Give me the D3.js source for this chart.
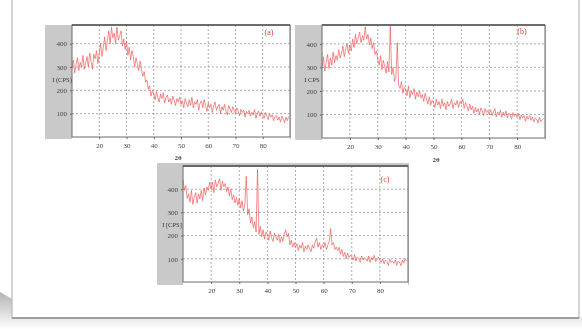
<!DOCTYPE html>
<html>
<head>
<meta charset="utf-8">
<script src="https://cdn.jsdelivr.net/npm/d3@7"></script>
<style>
  html, body { margin: 0; padding: 0; background: #ffffff; }
  svg { display: block; }
</style>
</head>
<body>
<svg id="chart" width="582" height="329"></svg>
<script>
// Diffraction scans, 2θ from 10° to 89.5° in 0.5° steps
const twoThetaStart = 10;
const twoThetaStep = 0.5;
const xTicks = [20, 30, 40, 50, 60, 70, 80];
const yTicks = [100, 200, 300, 400];

const sampleA = [
  295, 330, 275, 310, 340, 285, 320, 300, 350, 290,
  315, 345, 300, 360, 325, 290, 355, 335, 370, 315,
  360, 400, 345, 385, 430, 370, 415, 455, 400, 470,
  425, 445, 400, 470, 415, 435, 455, 390, 420, 375,
  410, 350, 385, 330, 370, 345, 300, 340, 315, 285,
  325, 290, 260, 280, 235, 245, 205, 220, 175, 200,
  185, 160, 195, 170, 150, 185, 165, 190, 145, 170,
  180, 150, 165, 140, 175, 155, 135, 165, 150, 170,
  140, 155, 125, 165, 145, 130, 160, 135, 170, 125,
  150, 140, 160, 115, 145, 155, 125, 160, 135, 110,
  145, 125, 140, 105, 135, 150, 115, 130, 140, 100,
  130, 115, 140, 110, 95, 135, 120, 105, 130, 115,
  100, 125, 110, 90, 120, 105, 115, 85, 110, 100,
  115, 90, 105, 95, 118, 80, 100, 112, 88, 108,
  95, 80, 105, 90, 75, 100, 85, 95, 70, 88,
  92, 72, 85, 65, 90, 78, 62, 85, 70, 88
];

const sampleB = [
  300, 345, 285, 320, 355, 295, 340, 310, 365, 320,
  350, 330, 375, 340, 360, 390, 345, 380, 400, 360,
  395, 370, 420, 385, 440, 400, 425, 450, 405, 435,
  415, 472, 420, 440, 395, 425, 380, 405, 355, 370,
  335, 310, 350, 290, 330, 305, 275, 325, 280, 475,
  270, 300, 240, 260, 405, 225, 210, 240, 190, 215,
  205, 180, 220, 170, 200, 185, 210, 165, 195, 175,
  200, 170, 185, 155, 190, 165, 145, 175, 140, 160,
  150, 130, 165, 140, 155, 125, 165, 135, 150, 120,
  155, 135, 145, 165, 125, 150, 140, 160, 130, 155,
  145, 165, 125, 150, 135, 115, 145, 120, 135, 105,
  130, 110, 125, 100, 128, 115, 95, 125, 108, 118,
  100, 120, 95, 112, 125, 90, 110, 100, 118, 88,
  110, 95, 115, 85, 105, 100, 80, 108, 92, 102,
  90, 105, 78, 98, 85, 95, 72, 92, 80, 95,
  75, 90, 68, 85, 80, 64, 88, 70, 78, 84
];

const sampleC = [
  440, 395, 415, 360, 380, 345, 395, 335, 365, 385,
  340, 380, 360, 395, 350, 405, 375, 410, 395, 430,
  400, 430, 385, 440, 410, 425, 445, 395, 435, 410,
  425, 390, 410, 370, 400, 355, 375, 340, 365, 330,
  360, 320, 350, 305, 335, 455, 290, 315, 255, 280,
  235, 260, 215, 485, 205, 240, 195, 225, 185, 215,
  205, 180, 220, 190, 175, 210, 195, 180, 205, 170,
  195, 175, 205, 225, 195, 210, 160, 180, 150, 170,
  150, 165, 135, 160, 145, 170, 130, 155, 140, 160,
  145, 130, 160, 145, 175, 190, 150, 170, 140, 160,
  150, 170, 140, 160, 175, 230, 160, 170, 140, 150,
  135, 150, 120, 140, 110, 128, 100, 125, 105, 115,
  110, 95, 118, 90, 108, 100, 85, 112, 95, 105,
  100, 90, 112, 85, 105, 95, 115, 88, 100, 108,
  95, 85, 100, 78, 95, 88, 72, 98, 85, 90,
  80, 95, 72, 90, 85, 70, 95, 82, 100, 90
];

const panels = [
  { tag: "(a)", yLabel: "I (CPS)", xLabel: "2θ", values: sampleA, yMax: 480,
    box: { x0: 45, x1: 291, y0: 25, y1: 139 }, plot: { x0: 72, x1: 290, y0: 25, y1: 137 },
    tagPos: [269, 35], yLabelX: 62, xLabelPos: [178, 160] },
  { tag: "(b)", yLabel: "I CPS", xLabel: "2θ", values: sampleB, yMax: 480,
    box: { x0: 295, x1: 546, y0: 25, y1: 140 }, plot: { x0: 322, x1: 545, y0: 25, y1: 138 },
    tagPos: [522, 34], yLabelX: 312, xLabelPos: [436, 162] },
  { tag: "(c)", yLabel: "I [CPS]", xLabel: null, values: sampleC, yMax: 500,
    box: { x0: 157, x1: 409, y0: 163, y1: 285 }, plot: { x0: 183, x1: 408, y0: 166, y1: 282 },
    tagPos: [385, 182], yLabelX: 172, xLabelPos: null }
];

const svg = d3.select("#chart");
const defs = svg.append("defs");

// soft focus over the whole page
const soft = defs.append("filter").attr("id", "soft")
  .attr("x", "-5%").attr("y", "-5%").attr("width", "110%").attr("height", "110%");
soft.append("feGaussianBlur").attr("stdDeviation", 0.55);

const shadowGrad = defs.append("linearGradient").attr("id", "shadowGrad")
  .attr("x1", 0).attr("y1", 0).attr("x2", 0).attr("y2", 1);
shadowGrad.append("stop").attr("offset", 0).attr("stop-color", "#9a9a9a");
shadowGrad.append("stop").attr("offset", 1).attr("stop-color", "#ffffff");

const root = svg.append("g").attr("filter", "url(#soft)");

root.append("rect").attr("width", 582).attr("height", 329).attr("fill", "#ffffff");

// card shadow and edges
root.append("path")
  .attr("d", "M0,292 L14,300 L578,316 L582,318 L582,329 L0,329 Z")
  .attr("fill", "url(#shadowGrad)").attr("opacity", 0.75);
root.append("rect")
  .attr("x", 12).attr("y", -2).attr("width", 567).attr("height", 320)
  .attr("fill", "#ffffff").attr("stroke", "#b8b8b8").attr("stroke-width", 1.2);
root.append("line").attr("x1", 12).attr("x2", 579).attr("y1", 318).attr("y2", 318)
  .attr("stroke", "#8f8f8f").attr("stroke-width", 1.6);

panels.forEach(p => {
  const g = root.append("g");
  const x = d3.scaleLinear().domain([10, 90]).range([p.plot.x0, p.plot.x1]);
  const y = d3.scaleLinear().domain([0, p.yMax]).range([p.plot.y1, p.plot.y0]);

  // grey side strip behind the plot
  g.append("rect")
    .attr("x", p.box.x0).attr("y", p.box.y0)
    .attr("width", p.box.x1 - p.box.x0).attr("height", p.box.y1 - p.box.y0)
    .attr("fill", "#c9c9c9");
  g.append("rect")
    .attr("x", p.plot.x0).attr("y", p.plot.y0)
    .attr("width", p.plot.x1 - p.plot.x0).attr("height", p.box.y1 - p.plot.y0)
    .attr("fill", "#ffffff");

  // dashed grid
  g.append("g").selectAll("line").data(xTicks).join("line")
    .attr("x1", d => x(d)).attr("x2", d => x(d))
    .attr("y1", p.plot.y0).attr("y2", p.plot.y1)
    .attr("stroke", "#8a8a8a").attr("stroke-width", 0.7).attr("stroke-dasharray", "2,2");
  g.append("g").selectAll("line").data(yTicks).join("line")
    .attr("x1", p.plot.x0).attr("x2", p.plot.x1)
    .attr("y1", d => y(d)).attr("y2", d => y(d))
    .attr("stroke", "#8a8a8a").attr("stroke-width", 0.7).attr("stroke-dasharray", "2,2");

  // axes
  const xAxis = d3.axisBottom(x).tickValues(xTicks).tickSize(2).tickPadding(4);
  const yAxis = d3.axisLeft(y).tickValues(yTicks).tickSize(2).tickPadding(3);
  const ax = g.append("g").attr("transform", `translate(0,${p.plot.y1})`).call(xAxis);
  const ay = g.append("g").attr("transform", `translate(${p.plot.x0},0)`).call(yAxis);
  [ax, ay].forEach(a => {
    a.select(".domain").remove();
    a.selectAll(".tick line").attr("stroke", "#666");
    a.selectAll("text").attr("font-family", "Liberation Serif, serif")
      .attr("font-size", 7).attr("fill", "#444");
  });

  // scan trace
  const line = d3.line()
    .x((d, i) => x(twoThetaStart + i * twoThetaStep))
    .y(d => y(d));
  g.append("path").datum(p.values)
    .attr("d", line)
    .attr("fill", "none").attr("stroke", "#ee4d4d")
    .attr("stroke-width", 0.75).attr("stroke-linejoin", "round").attr("opacity", 0.85);

  // frame
  g.append("rect")
    .attr("x", p.plot.x0).attr("y", p.plot.y0)
    .attr("width", p.plot.x1 - p.plot.x0).attr("height", p.plot.y1 - p.plot.y0)
    .attr("fill", "none").attr("stroke", "#6a6a6a").attr("stroke-width", 1);
  g.append("line")
    .attr("x1", p.plot.x0).attr("x2", p.plot.x1).attr("y1", p.plot.y0).attr("y2", p.plot.y0)
    .attr("stroke", "#555").attr("stroke-width", 1.4);

  // labels
  g.append("text").attr("x", p.tagPos[0]).attr("y", p.tagPos[1])
    .attr("text-anchor", "middle").attr("font-family", "Liberation Serif, serif")
    .attr("font-size", 8).attr("fill", "#e23a3a").text(p.tag);
  g.append("text").attr("x", p.yLabelX).attr("y", y(250) + 3)
    .attr("text-anchor", "middle").attr("font-family", "Liberation Serif, serif")
    .attr("font-size", 6.5).attr("fill", "#333").text(p.yLabel);
  if (p.xLabel) {
    g.append("text").attr("x", p.xLabelPos[0]).attr("y", p.xLabelPos[1])
      .attr("text-anchor", "middle").attr("font-family", "Liberation Serif, serif")
      .attr("font-size", 7).attr("font-weight", "bold").attr("fill", "#444").text(p.xLabel);
  }
});
</script>
</body>
</html>
